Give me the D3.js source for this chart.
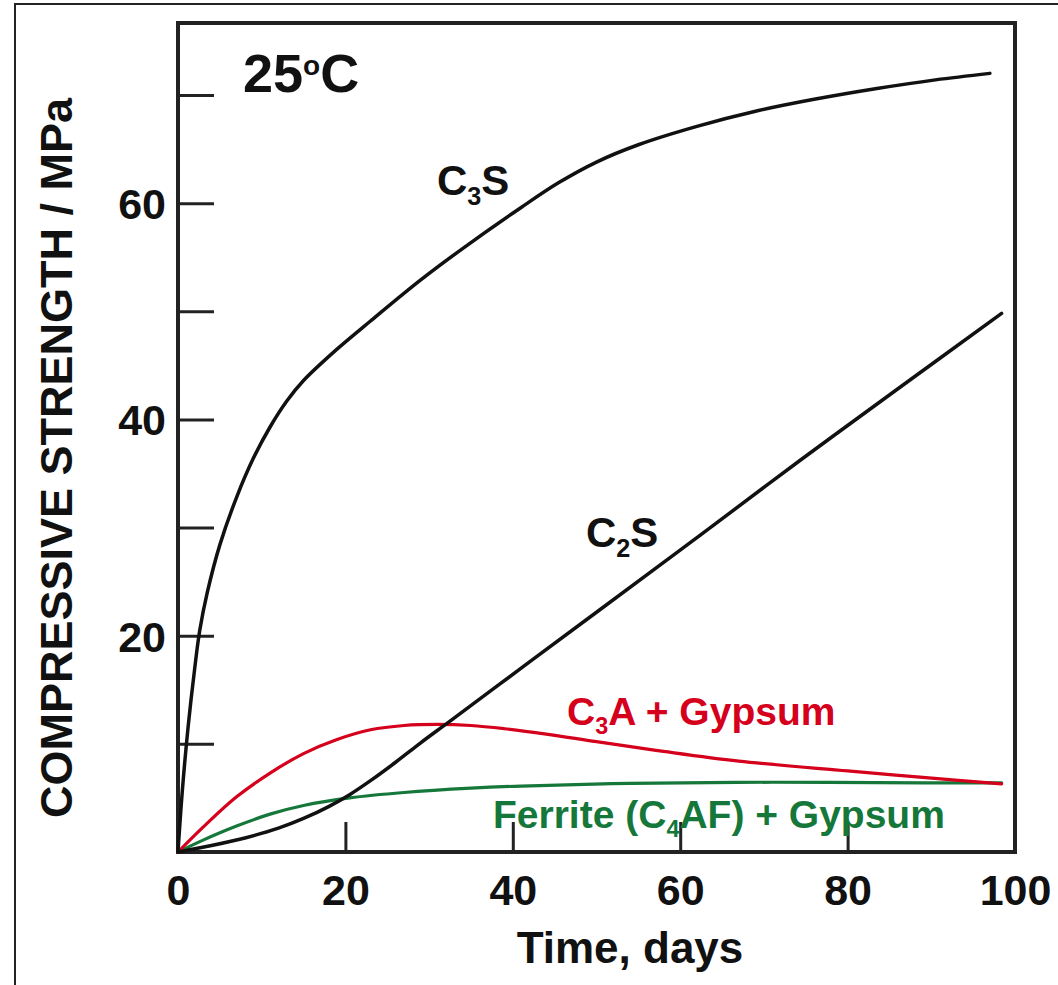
<!DOCTYPE html>
<html>
<head>
<meta charset="utf-8">
<script src="https://cdn.jsdelivr.net/npm/d3@7"></script>
<style>
  body { margin: 0; background: #fff; }
  svg { display: block; font-family: "Liberation Sans", Arial, Helvetica, sans-serif; font-weight: bold; }
</style>
</head>
<body>
<div id="chart"></div>
<script>
// strength vs time, [day, MPa]
const c3s = [[0,0],[0.5,5.5],[1.2,11.5],[2,17],[2.6,20.5],[3.5,24],[5,28.4],[7,32.8],[9,36.4],[11,39.3],[13,41.7],[15,43.6],[19,46.5],[23,49.1],[29,52.9],[34,55.8],[41,59.6],[45.5,61.9],[50,63.8],[55,65.4],[62,67.1],[69,68.5],[76,69.6],[83.5,70.6],[90.5,71.4],[97,72.0]];
const c2s = [[0,0],[4,0.6],[8,1.3],[12,2.2],[15,3.1],[18,4.2],[20.5,5.3],[23,6.6],[26,8.3],[29,10.1],[32.5,12.1],[41,17.0],[50.4,22.4],[62.4,29.3],[74.3,36.2],[86.3,43.0],[98.4,49.8]];
const c3a = [[0,0],[3,2.3],[7,5.1],[11,7.3],[15,9.1],[19,10.4],[23,11.3],[27,11.7],[31,11.8],[35,11.7],[39,11.4],[44,10.9],[50,10.2],[58,9.3],[67,8.4],[80,7.5],[89,6.9],[98.4,6.3]];
const ferrite = [[0,0],[3,1.1],[7,2.4],[11,3.5],[15,4.3],[20.5,5.0],[27,5.5],[35,5.9],[41,6.1],[54,6.35],[71,6.45],[89,6.4],[98.4,6.4]];

const xTicks = [0, 20, 40, 60, 80, 100];
const yTicks = [10, 20, 30, 40, 50, 60, 70];
const yTickLabels = [20, 40, 60];

const width = 1058, height = 985;
const margin = {top: 23, left: 178, right: 43, bottom: 133};
const red = "#d5001c", green = "#15773a";

const svg = d3.select("#chart").append("svg")
  .attr("width", width)
  .attr("height", height);

// outer picture border (top + left only)
svg.append("path")
  .attr("d", `M15,${height} V4 H${width}`)
  .attr("fill", "none")
  .attr("stroke", "#222")
  .attr("stroke-width", 2);

const x = d3.scaleLinear().domain([0, 100]).range([margin.left, width - margin.right]);
const y = d3.scaleLinear().domain([0, 70]).range([852, 95]);

// x axis: inward ticks, labels below
const xAxis = d3.axisBottom(x)
  .tickValues(xTicks)
  .tickSize(-30)
  .tickPadding(22)
  .tickFormat(d3.format("d"));
const gx = svg.append("g")
  .attr("transform", `translate(0,${y(0)})`)
  .call(xAxis);

const yAxis = d3.axisLeft(y)
  .tickValues(yTicks)
  .tickSize(-36)
  .tickPadding(12)
  .tickFormat(d => yTickLabels.includes(d) ? d : "");
const gy = svg.append("g")
  .attr("transform", `translate(${margin.left},0)`)
  .call(yAxis);

[gx, gy].forEach(g => {
  g.select(".domain").remove();
  g.selectAll(".tick line").attr("stroke", "#222").attr("stroke-width", 3);
  g.selectAll(".tick text")
    .attr("fill", "#111")
    .attr("font-size", 43)
    .attr("font-family", "Liberation Sans, Arial, sans-serif")
    .attr("font-weight", "bold");
});
gx.selectAll(".tick text").attr("dy", "0.71em");
gy.selectAll(".tick text").attr("dy", "0.36em");

// frame
svg.append("rect")
  .attr("x", x(0))
  .attr("y", margin.top)
  .attr("width", x(100) - x(0))
  .attr("height", y(0) - margin.top)
  .attr("fill", "none")
  .attr("stroke", "#222")
  .attr("stroke-width", 4);

const line = d3.line()
  .x(d => x(d[0]))
  .y(d => y(d[1]))
  .curve(d3.curveCatmullRom.alpha(0.5));

const series = [
  {data: ferrite, color: green, w: 3.2},
  {data: c3a, color: red, w: 3.2},
  {data: c2s, color: "#111", w: 3.5},
  {data: c3s, color: "#111", w: 3.5}
];
svg.selectAll("path.curve")
  .data(series)
  .join("path")
  .attr("class", "curve")
  .attr("d", d => line(d.data))
  .attr("fill", "none")
  .attr("stroke", d => d.color)
  .attr("stroke-width", d => d.w)
  .attr("stroke-linecap", "round");

// labels with subscripts
function label(xp, yp, parts, size, color) {
  const t = svg.append("text")
    .attr("x", xp)
    .attr("y", yp)
    .attr("font-size", size)
    .attr("fill", color);
  parts.forEach(p => {
    const s = t.append("tspan").text(p.t);
    if (p.sub) s.attr("font-size", size * 0.6).attr("dy", size * 0.24);
    if (p.back) s.attr("dy", -size * 0.24);
  });
  return t;
}

label(437, 195, [{t: "C"}, {t: "3", sub: true}, {t: "S", back: true}], 42, "#111");
label(586, 547, [{t: "C"}, {t: "2", sub: true}, {t: "S", back: true}], 42, "#111");
label(567, 725, [{t: "C"}, {t: "3", sub: true}, {t: "A + Gypsum", back: true}], 39, red);
label(493, 828, [{t: "Ferrite (C"}, {t: "4", sub: true}, {t: "AF) + Gypsum", back: true}], 39, green);

// temperature
const temp = svg.append("text")
  .attr("x", 243)
  .attr("y", 92)
  .attr("font-size", 54)
  .attr("fill", "#111");
temp.append("tspan").text("25");
temp.append("tspan").text("o").attr("font-size", 28).attr("dy", -17);
temp.append("tspan").text("C").attr("dy", 17);

// axis titles
svg.append("text")
  .attr("x", 630)
  .attr("y", 963)
  .attr("text-anchor", "middle")
  .attr("font-size", 44)
  .attr("fill", "#111")
  .text("Time, days");

svg.append("text")
  .attr("transform", "translate(72,458) rotate(-90)")
  .attr("text-anchor", "middle")
  .attr("font-size", 45)
  .attr("fill", "#111")
  .text("COMPRESSIVE STRENGTH / MPa");
</script>
</body>
</html>
